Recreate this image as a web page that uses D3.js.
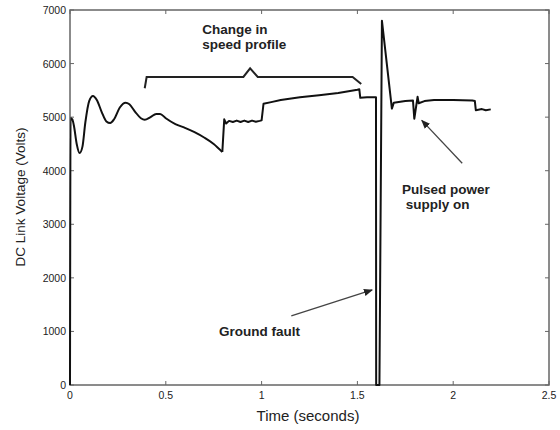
<!DOCTYPE html>
<html>
<head>
<meta charset="utf-8">
<script src="https://cdn.jsdelivr.net/npm/d3@7"></script>
<style>
	body { margin: 0; background: #fff; }
	svg text { font-family: Arial, "Liberation Sans", Helvetica, sans-serif; fill: #222; }
	.frame { fill: none; stroke: #666; stroke-width: 1.5; }
	.tick { stroke: #666; stroke-width: 1; }
	.trace { fill: none; stroke: #111; stroke-width: 2; stroke-linejoin: round; }
	.note { stroke: #222; stroke-width: 2; fill: none; }
</style>
</head>
<body>
<div id="chart"><svg width="560" height="430"></svg></div>
<script>

var WIDTH = 560;
var HEIGHT = 430;

var time = [0, 0.003, 0.012, 0.02, 0.035, 0.05, 0.065, 0.08, 0.1, 0.12, 0.14, 0.165, 0.19, 0.21, 0.23, 0.26, 0.29, 0.31, 0.34, 0.37, 0.39, 0.42, 0.45, 0.47, 0.5, 0.55, 0.6, 0.65, 0.7, 0.75, 0.795,
	0.805, 0.815, 0.83, 0.85, 0.87, 0.89, 0.91, 0.93, 0.95, 0.97, 0.99, 1.0,
	1.01, 1.05, 1.1, 1.2, 1.3, 1.4, 1.5, 1.51, 1.515, 1.55, 1.597,
	1.598, 1.615, 1.628, 1.68, 1.69, 1.75, 1.79, 1.797, 1.814, 1.82, 1.85, 1.9, 2.0, 2.1, 2.113, 2.118, 2.15, 2.17, 2.196];
var voltage = [0, 4980, 4960, 4850, 4500, 4330, 4450, 4900, 5300, 5395, 5320, 5100, 4920, 4890, 4960, 5180, 5270, 5240, 5100, 4980, 4950, 5000, 5060, 5060, 4980, 4870, 4800, 4720, 4620, 4500, 4350,
	4960, 4880, 4930, 4910, 4935, 4910, 4935, 4910, 4935, 4915, 4930, 4940,
	5250, 5280, 5320, 5370, 5410, 5450, 5510, 5520, 5360, 5370, 5370,
	0, 0, 6800, 5160, 5270, 5300, 5310, 4970, 5380, 5260, 5300, 5320, 5320, 5310, 5300, 5130, 5150, 5130, 5145];

// the start-up oscillation is smooth, the rest is drawn straight
var smoothUntil = 0.795;

var xTicks = [0, 0.5, 1, 1.5, 2, 2.5];
var xTickLabels = ['0', '0.5', '1', '1.5', '2', '2.5'];
var yTicks = [0, 1000, 2000, 3000, 4000, 5000, 6000, 7000];

// bracket over the speed profile change: [time, voltage]
var bracket = [[0.39, 5540], [0.40, 5750], [0.905, 5750], [0.94, 5910], [0.98, 5750], [1.475, 5750], [1.52, 5620]];

var notes = [
	{lines: ['Change in', 'speed profile'], t: 0.69, v: 6560},
	{lines: ['Pulsed power', ' supply on'], t: 1.733, v: 3570},
	{lines: ['Ground fault'], t: 0.778, v: 910}
];
// arrows: from [t, v] to [t, v]
var arrows = [
	{from: [1.155, 1290], to: [1.577, 1775]},
	{from: [2.047, 4140], to: [1.836, 4940]}
];

function makeSVG() {
	var svg = d3.select('#chart').select('svg');
	return svg;
}

function init() {
	var svg = makeSVG();

	var x = d3.scaleLinear().domain([0, 2.5]).range([70, 549]);
	var y = d3.scaleLinear().domain([0, 7000]).range([385, 10]);

	svg.append('defs').append('marker')
		.attr('id', 'head')
		.attr('viewBox', '0 0 10 10')
		.attr('refX', 9)
		.attr('refY', 5)
		.attr('markerWidth', 7)
		.attr('markerHeight', 7)
		.attr('orient', 'auto')
		.append('path')
		.attr('d', 'M 0,1 L 10,5 L 0,9 Z')
		.attr('fill', '#222');

	// ticks inside the box on all four sides
	var g = svg.append('g');
	xTicks.forEach(function(t) {
		g.append('line').attr('class', 'tick')
			.attr('x1', x(t)).attr('x2', x(t)).attr('y1', y(0)).attr('y2', y(0)-4);
		g.append('line').attr('class', 'tick')
			.attr('x1', x(t)).attr('x2', x(t)).attr('y1', y(7000)).attr('y2', y(7000)+4);
	});
	yTicks.forEach(function(v) {
		g.append('line').attr('class', 'tick')
			.attr('x1', x(0)).attr('x2', x(0)+4).attr('y1', y(v)).attr('y2', y(v));
		g.append('line').attr('class', 'tick')
			.attr('x1', x(2.5)).attr('x2', x(2.5)-4).attr('y1', y(v)).attr('y2', y(v));
	});

	g.selectAll('.xl').data(xTicks).enter().append('text')
		.attr('x', function(d) { return x(d); })
		.attr('y', 398.5)
		.attr('text-anchor', 'middle')
		.style('font-size', '10.5px')
		.text(function(d, i) { return xTickLabels[i]; });

	g.selectAll('.yl').data(yTicks).enter().append('text')
		.attr('x', 66)
		.attr('y', function(d) { return y(d)+4; })
		.attr('text-anchor', 'end')
		.style('font-size', '10.5px')
		.text(function(d) { return d; });

	svg.append('rect').attr('class', 'frame')
		.attr('x', x(0)).attr('y', y(7000))
		.attr('width', x(2.5)-x(0)).attr('height', y(0)-y(7000));

	var points = time.map(function(t, i) { return [t, voltage[i]]; });
	var smoothPart = points.filter(function(d) { return d[0] <= smoothUntil; });
	var sharpPart = points.filter(function(d) { return d[0] >= smoothUntil; });

	var line = d3.line()
		.x(function(d) { return x(d[0]); })
		.y(function(d) { return y(d[1]); });

	svg.append('path')
		.attr('class', 'trace')
		.attr('d', line.curve(d3.curveMonotoneX)(smoothPart));

	svg.append('path')
		.attr('class', 'trace')
		.attr('d', line.curve(d3.curveLinear)(sharpPart));

	// annotations
	svg.append('path')
		.attr('class', 'note')
		.attr('d', line(bracket));

	arrows.forEach(function(a) {
		svg.append('line')
			.attr('x1', x(a.from[0])).attr('y1', y(a.from[1]))
			.attr('x2', x(a.to[0])).attr('y2', y(a.to[1]))
			.attr('stroke', '#444').attr('stroke-width', 1.3)
			.attr('marker-end', 'url(#head)');
	});

	notes.forEach(function(n) {
		var t = svg.append('text')
			.attr('x', x(n.t)).attr('y', y(n.v))
			.style('font-size', '13.5px')
			.style('font-weight', 'bold')
			.attr('xml:space', 'preserve');
		n.lines.forEach(function(s, i) {
			t.append('tspan').attr('x', x(n.t)).attr('dy', i ? 15 : 0).text(s);
		});
	});

	svg.append('text')
		.attr('x', 308).attr('y', 421)
		.attr('text-anchor', 'middle')
		.style('font-size', '15px')
		.text('Time (seconds)');

	svg.append('text')
		.attr('transform', 'translate(25,197) rotate(-90)')
		.attr('text-anchor', 'middle')
		.style('font-size', '13.5px')
		.text('DC Link Voltage (Volts)');
}

init();
</script>
</body>
</html>
